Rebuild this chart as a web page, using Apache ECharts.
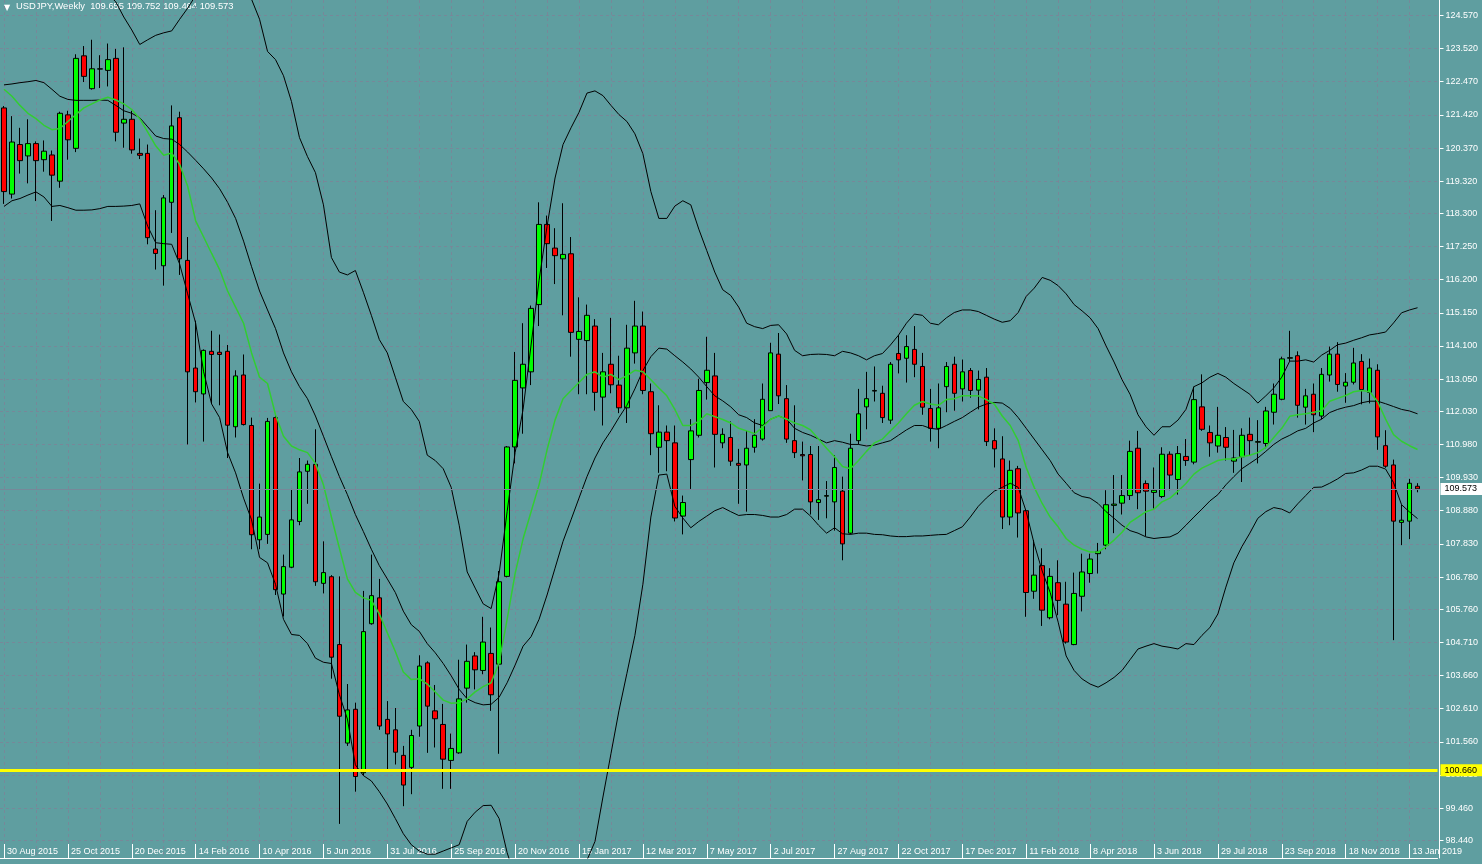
<!DOCTYPE html>
<html><head><meta charset="utf-8">
<script src="https://cdn.jsdelivr.net/npm/echarts@6/dist/echarts.min.js"></script>
<style>html,body{margin:0;padding:0;background:#5F9EA0;overflow:hidden}#c{width:1482px;height:864px}</style>
</head><body><div id="c"></div>
<script>
const symbolName = 'USDJPY,Weekly';
const firstWeekUTC = [2015, 7, 30];
const lastQuote = { open: 109.655, high: 109.752, low: 109.464, close: 109.573 };
const levelLine = 100.660;

const opens = [121.64,118.91,120.48,120.12,120.51,120.00,120.15,119.32,121.42,120.36,
123.29,122.25,122.87,122.83,123.21,121.16,121.28,120.20,120.20,117.17,
116.64,118.65,121.33,116.81,113.40,112.58,113.93,113.90,113.93,111.54,
113.18,111.58,107.96,108.13,111.83,106.24,107.09,108.54,110.13,110.35,
106.58,106.79,104.64,101.52,102.59,100.58,105.30,106.12,102.27,101.94,
101.13,100.75,102.06,104.06,102.54,102.11,100.97,101.21,103.26,104.28,
103.82,104.36,104.02,106.80,110.90,112.77,113.28,115.41,117.95,117.20,
116.86,117.02,114.31,114.27,114.73,112.48,113.52,112.86,112.14,113.88,
114.73,112.65,110.89,111.37,111.03,108.71,110.50,111.27,112.94,113.15,
111.03,111.20,110.38,110.33,110.89,111.15,112.05,113.84,112.43,111.10,
110.66,110.66,109.14,109.34,109.16,109.50,108.17,111.10,112.17,112.67,
112.60,111.75,113.86,113.71,113.99,113.45,112.12,111.49,112.81,113.52,
112.74,113.32,112.70,113.11,111.10,110.52,108.68,110.21,108.88,106.33,
107.14,105.49,106.60,105.92,104.64,106.17,106.89,107.52,107.79,109.05,
109.12,109.36,110.86,109.74,109.46,109.33,110.67,109.87,110.60,110.42,
112.17,111.36,110.93,111.20,110.45,110.59,111.30,111.05,111.01,112.00,
112.41,113.71,113.79,112.16,112.57,111.88,113.18,113.84,112.83,112.95,
113.61,112.63,113.33,110.94,110.33,108.51,108.55,109.655];
const highs = [121.70,121.38,121.01,121.28,120.58,120.61,120.29,121.52,121.55,123.34,
123.60,123.80,123.31,123.68,123.51,123.56,121.55,120.67,120.48,118.40,
118.88,121.72,121.52,117.55,114.90,113.99,114.58,114.46,114.13,113.33,
113.83,111.83,109.74,111.82,111.92,107.49,109.57,110.55,110.47,111.46,
107.91,106.84,106.80,103.39,102.80,106.34,107.49,106.72,102.85,102.63,
101.43,101.94,104.30,104.11,103.36,102.76,101.82,104.16,104.64,104.40,
105.52,105.18,106.97,110.93,113.91,114.82,115.38,118.65,118.23,117.83,
118.62,117.55,115.64,115.41,114.95,113.88,114.99,113.79,114.77,115.53,
115.19,112.91,112.22,111.58,111.58,109.36,111.78,113.06,114.39,113.88,
111.49,111.71,110.84,111.41,111.78,112.91,114.20,114.51,112.86,112.22,
111.07,110.93,110.93,109.82,110.64,109.96,111.32,112.74,113.28,113.45,
112.84,113.59,114.44,114.44,114.73,113.88,112.74,112.91,113.59,113.76,
113.67,113.40,113.32,113.40,111.49,111.24,110.47,110.30,108.93,107.95,
107.69,107.06,107.31,106.63,106.92,107.52,107.52,107.86,109.53,110.01,
110.01,111.10,111.41,109.84,110.25,110.89,110.76,110.93,111.15,112.81,
113.20,111.58,112.17,111.53,111.44,111.49,111.83,111.75,112.17,112.91,
113.76,114.58,113.93,112.74,112.91,113.40,114.08,114.22,113.24,114.04,
113.84,113.70,113.52,111.43,110.50,109.07,109.89,109.752];
const lows = [118.60,118.77,119.56,119.25,118.69,119.62,118.06,119.11,120.00,120.24,
122.46,122.22,122.27,122.32,120.58,120.38,120.19,120.02,117.32,116.52,
116.01,117.68,116.35,110.98,112.31,111.07,112.26,112.22,110.55,111.20,
111.58,107.66,107.66,107.83,106.21,105.53,107.06,108.42,109.10,106.50,
106.26,103.56,98.96,101.43,99.98,100.49,105.27,101.94,100.66,100.84,
99.52,99.90,101.72,101.21,101.38,100.07,100.07,101.18,102.80,103.22,
103.70,102.54,101.18,106.77,110.38,111.32,112.86,114.73,116.57,116.06,
115.07,113.76,112.57,112.57,112.05,111.58,112.60,111.97,111.66,113.54,
112.57,110.64,110.08,110.13,108.54,108.13,109.57,111.20,112.40,110.25,
110.86,110.30,109.10,108.85,110.72,111.10,112.05,112.26,111.03,110.55,
109.84,108.76,108.59,108.64,108.25,107.31,108.13,110.98,111.46,112.34,
111.66,111.63,113.23,112.94,113.11,111.92,111.07,110.86,112.00,112.05,
112.34,112.46,112.09,110.93,110.25,108.30,108.42,108.03,105.52,106.09,
105.23,105.44,105.57,104.67,104.62,105.69,106.60,106.89,107.66,108.17,
108.76,109.22,108.93,108.08,108.95,109.28,109.53,109.39,110.30,110.35,
111.41,110.59,110.72,110.47,110.08,109.79,110.64,110.38,110.86,111.61,
112.38,113.62,111.83,111.61,111.37,111.78,112.97,112.65,112.30,112.88,
112.25,112.28,110.81,110.24,104.78,107.79,107.98,109.464];
const closes = [118.99,120.56,119.97,120.51,119.97,120.27,119.51,121.47,120.63,123.21,
122.64,122.88,122.88,123.17,120.87,121.28,120.31,120.14,117.53,117.03,
118.79,121.07,116.86,113.28,112.65,113.96,113.83,113.83,111.59,113.15,
111.61,108.12,108.68,111.71,106.38,107.11,108.59,110.11,110.35,106.63,
106.92,104.24,102.37,102.57,100.46,105.05,106.19,102.06,101.81,101.23,
100.19,101.76,103.96,102.69,102.29,101.01,101.35,102.92,104.11,103.84,
104.72,103.05,106.63,110.90,113.01,113.52,115.29,117.95,117.34,116.96,
117.00,114.53,114.56,115.07,112.63,113.28,112.87,112.14,114.03,114.73,
112.69,111.32,111.37,111.10,108.65,109.14,111.41,112.69,113.33,111.30,
111.30,110.45,110.32,110.86,111.27,112.41,113.88,112.52,111.15,110.72,
110.62,109.16,109.23,109.36,110.25,107.83,110.86,111.95,112.43,112.69,
111.83,113.52,113.66,114.08,113.52,112.16,111.49,112.14,113.45,112.60,
113.28,112.69,113.04,111.07,110.84,108.68,110.16,108.81,106.29,106.84,
105.73,106.80,106.04,104.72,106.26,106.94,107.35,107.59,109.07,109.09,
109.36,110.76,109.45,109.50,109.53,110.67,110.01,110.69,110.47,112.40,
111.46,111.03,111.27,110.89,110.55,111.27,111.10,111.07,112.04,112.57,
113.69,113.73,112.22,112.52,111.92,113.20,113.84,112.88,112.95,113.56,
112.72,113.40,111.22,110.29,108.55,108.58,109.75,109.573];

const bbUpper = [126.20,126.15,126.10,126.05,126.00,126.00,125.90,125.60,125.40,125.35,
125.35,125.35,125.30,125.25,125.00,124.52,124.11,123.65,123.80,123.94,
124.02,124.08,124.45,124.80,125.20,125.90,126.40,126.40,126.50,126.10,
125.40,125.08,124.45,123.43,123.17,122.66,121.84,120.70,120.10,119.59,
118.57,116.90,116.44,116.35,116.49,115.80,115.07,114.30,113.88,113.11,
112.34,112.09,111.71,110.64,110.47,110.21,109.62,108.42,106.94,106.43,
105.93,105.78,106.89,108.85,110.72,112.09,114.13,116.18,117.89,119.42,
120.48,121.01,121.50,122.11,122.18,122.03,121.72,121.43,121.21,120.82,
120.19,118.99,118.14,118.14,118.53,118.70,118.57,117.80,117.12,116.44,
115.88,115.70,115.33,114.82,114.71,114.65,114.75,114.77,114.48,113.96,
113.79,113.83,113.84,113.83,113.79,113.93,113.88,113.79,113.66,113.79,
113.86,114.13,114.44,114.82,115.11,115.07,114.82,114.77,114.99,115.16,
115.24,115.24,115.19,115.07,114.95,114.85,114.90,115.16,115.67,115.93,
116.27,116.18,116.01,115.75,115.41,115.21,114.99,114.65,114.10,113.59,
113.03,112.57,111.92,111.54,111.27,111.54,111.54,111.75,112.09,112.81,
112.93,113.11,113.23,113.11,112.91,112.74,112.57,112.29,112.52,112.77,
113.11,113.62,113.62,113.66,113.59,113.81,113.96,114.14,114.19,114.28,
114.36,114.45,114.49,114.54,114.83,115.15,115.24,115.31];
const bbMiddle = [122.37,122.40,122.44,122.47,122.51,122.44,122.23,122.01,121.91,121.88,
121.88,121.88,121.89,121.88,121.72,121.55,121.47,121.33,121.04,120.75,
120.67,120.65,120.48,120.24,119.98,119.71,119.42,119.08,118.65,118.14,
117.42,116.61,115.84,115.24,114.65,113.88,113.28,112.81,112.43,111.88,
111.24,110.59,109.96,109.39,108.76,108.22,107.66,107.14,106.72,106.29,
105.70,105.27,105.06,104.67,104.38,104.04,103.65,103.22,102.92,102.80,
102.73,102.75,102.97,103.43,103.99,104.59,104.89,105.44,106.21,107.06,
107.91,108.59,109.28,109.96,110.55,111.03,111.41,111.83,112.22,112.74,
113.32,113.76,114.03,114.00,113.79,113.59,113.37,113.11,112.81,112.52,
112.36,112.17,111.92,111.83,111.66,111.58,111.78,111.88,111.78,111.49,
111.36,111.27,111.15,111.03,111.10,111.05,110.98,110.98,110.93,110.96,
111.03,111.10,111.27,111.44,111.58,111.58,111.49,111.46,111.58,111.71,
111.83,112.00,112.16,112.26,112.31,112.29,112.12,111.83,111.49,111.15,
110.81,110.47,110.04,109.75,109.45,109.33,109.28,109.11,108.85,108.64,
108.42,108.25,108.17,108.05,108.00,108.03,108.05,108.17,108.42,108.68,
108.93,109.19,109.39,109.70,109.96,110.21,110.38,110.55,110.76,110.98,
111.15,111.27,111.41,111.49,111.66,111.78,111.99,112.09,112.16,112.21,
112.30,112.35,112.35,112.27,112.18,112.09,112.04,111.95];
const bbLower = [118.52,118.70,118.77,118.88,118.98,118.82,118.52,118.55,118.48,118.40,
118.40,118.41,118.45,118.52,118.52,118.53,118.55,118.60,117.89,117.37,
117.34,117.32,116.69,115.75,114.82,113.28,112.26,111.83,110.72,110.08,
109.28,108.59,107.40,107.23,106.55,105.44,104.96,104.93,104.67,104.21,
104.08,104.04,103.05,102.28,100.83,100.49,100.32,99.98,99.59,99.13,
98.65,98.30,98.10,98.00,98.00,98.10,98.20,98.30,99.04,99.33,
99.54,99.55,99.13,98.05,97.26,97.09,95.65,94.70,94.53,94.70,
95.34,96.17,97.06,97.81,98.40,99.81,101.18,102.54,103.73,104.93,
106.55,108.68,110.01,110.04,109.02,108.65,108.34,108.54,108.71,108.88,
108.98,108.85,108.73,108.76,108.76,108.73,108.68,108.68,108.76,108.93,
108.93,108.71,108.42,108.17,108.34,108.15,108.13,108.17,108.17,108.13,
108.12,108.08,108.06,108.06,108.08,108.08,108.10,108.12,108.13,108.25,
108.37,108.68,109.02,109.28,109.50,109.62,109.75,109.62,108.85,107.83,
106.97,106.29,105.35,104.28,103.82,103.55,103.39,103.29,103.43,103.60,
103.82,104.16,104.50,104.59,104.67,104.59,104.55,104.50,104.67,104.64,
104.93,105.18,105.61,106.46,107.23,107.74,108.17,108.64,108.85,108.98,
108.93,108.81,109.10,109.36,109.62,109.63,109.75,109.89,110.06,110.08,
110.17,110.29,110.29,110.20,109.77,109.07,108.84,108.63];
const maGreen = [122.23,122.01,121.72,121.47,121.30,121.09,120.95,120.99,121.21,121.43,
121.64,121.77,121.89,121.98,121.89,121.77,121.59,121.30,120.87,120.44,
120.14,120.21,119.85,119.16,118.06,117.55,117.03,116.52,115.84,115.33,
114.82,113.88,113.11,112.91,111.92,111.24,110.93,110.81,110.72,110.38,
109.70,108.68,107.69,106.72,106.29,106.12,106.04,105.61,105.01,104.42,
103.77,103.53,103.56,103.39,103.14,102.88,102.78,102.80,102.92,103.14,
103.31,103.43,104.07,105.44,106.89,107.99,108.85,109.70,110.81,111.75,
112.43,112.69,112.94,113.20,113.28,113.11,113.20,113.03,113.16,113.33,
113.28,113.03,112.77,112.52,112.09,111.58,111.58,111.71,111.95,111.86,
111.77,111.66,111.49,111.41,111.32,111.53,111.78,111.88,111.78,111.66,
111.58,111.44,111.15,110.86,110.59,110.28,110.21,110.47,110.76,111.03,
111.15,111.41,111.66,111.95,112.22,112.34,112.26,112.22,112.40,112.43,
112.52,112.52,112.52,112.40,112.26,111.88,111.58,111.10,110.25,109.62,
109.11,108.68,108.37,108.00,107.79,107.66,107.57,107.57,107.74,107.95,
108.20,108.51,108.68,108.85,108.93,109.16,109.28,109.50,109.74,110.04,
110.23,110.35,110.47,110.52,110.52,110.59,110.64,110.72,110.89,111.20,
111.49,111.87,111.92,111.95,112.00,112.05,112.35,112.44,112.53,112.65,
112.69,112.65,112.34,111.78,111.29,111.08,110.94,110.82];

const priceTicks = [124.570,123.520,122.470,121.420,120.370,119.320,118.300,117.250,116.200,115.150,
114.100,113.050,112.030,110.980,109.930,108.880,107.830,106.780,105.760,104.710,
103.660,102.610,101.560,100.510,99.460,98.440];
const dateLabels = ['30 Aug 2015','25 Oct 2015','20 Dec 2015','14 Feb 2016','10 Apr 2016','5 Jun 2016',
'31 Jul 2016','25 Sep 2016','20 Nov 2016','15 Jan 2017','12 Mar 2017','7 May 2017','2 Jul 2017',
'27 Aug 2017','22 Oct 2017','17 Dec 2017','11 Feb 2018','8 Apr 2018','3 Jun 2018','29 Jul 2018',
'23 Sep 2018','18 Nov 2018','13 Jan 2019'];

// ---- build ----
const MONTHS = ['Jan','Feb','Mar','Apr','May','Jun','Jul','Aug','Sep','Oct','Nov','Dec'];
const n = opens.length;
const start = Date.UTC(firstWeekUTC[0], firstWeekUTC[1], firstWeekUTC[2]);
const categories = [];
for (let i = 0; i < n; i++) {
  const d = new Date(start + i * 7 * 86400000);
  categories.push(d.getUTCDate() + ' ' + MONTHS[d.getUTCMonth()] + ' ' + d.getUTCFullYear());
}
categories.push('', ''); // chart right shift
const ohlc = opens.map((o, i) => [o, closes[i], lows[i], highs[i]]);

const FONT = 'Liberation Sans';
const GRIDC = '#778899';
const chart = echarts.init(document.getElementById('c'), null, { renderer: 'canvas' });
const lineS = (data, color, width, z) => ({
  type: 'line', data, showSymbol: false, symbol: 'none', silent: true, z,
  lineStyle: { color, width }, emphasis: { disabled: true }
});
chart.setOption({
  backgroundColor: '#5F9EA0',
  animation: false,
  grid: { left: -2.5, right: 44.5, top: 0, bottom: 6, containLabel: false },
  graphic: [
    { type: 'text', left: 4, top: 4, style: { text: '\u25BC', fill: '#ffffff', font: '8px "DejaVu Sans"' } },
    { type: 'text', left: 16, top: 2, style: {
      text: symbolName + '  ' + lastQuote.open.toFixed(3) + ' ' + lastQuote.high.toFixed(3) + ' ' +
            lastQuote.low.toFixed(3) + ' ' + lastQuote.close.toFixed(3),
      fill: '#ffffff', font: '9.4px "' + FONT + '"' } }
  ],
  xAxis: {
    type: 'category', data: categories, boundaryGap: true,
    axisLine: { show: true, lineStyle: { color: '#ffffff', width: 1 } },
    axisTick: { show: true, inside: true, length: 14, interval: 7, alignWithLabel: true, lineStyle: { color: '#ffffff' } },
    axisLabel: {
      inside: true, interval: 7, margin: 2, align: 'left', padding: [0, 0, 0, 3],
      color: '#ffffff', fontFamily: FONT, fontSize: 9,
      formatter: (v, idx) => (idx % 8 === 0 && dateLabels[idx / 8]) ? dateLabels[idx / 8] : ''
    },
    splitLine: { show: true, interval: 3, alignWithLabel: true, lineStyle: { color: GRIDC, type: [3, 3], width: 1 } }
  },
  yAxis: {
    type: 'value', position: 'right', min: 97.879, max: 125.059, offset: 2, scale: true,
    axisLine: { show: true, lineStyle: { color: '#ffffff', width: 1 } },
    axisTick: { show: true, customValues: priceTicks, length: 4, lineStyle: { color: '#ffffff' } },
    axisLabel: { customValues: priceTicks, formatter: v => v.toFixed(3), color: '#ffffff',
      fontFamily: FONT, fontSize: 9, margin: 6, align: 'left' },
    splitLine: { show: true, lineStyle: { color: GRIDC, type: [3, 3], width: 1 } }
  },
  series: [
    {
      type: 'candlestick', data: ohlc, barWidth: 5, clip: false, z: 2, silent: true,
      itemStyle: { color: '#00FF00', color0: '#FF0000', borderColor: '#000000', borderColor0: '#000000', borderWidth: 1 },
      markLine: {
        silent: true, symbol: 'none', animation: false,
        data: [
          { yAxis: lastQuote.close, lineStyle: { color: GRIDC, width: 1, type: 'solid' },
            label: { show: true, position: 'end', distance: 3, formatter: lastQuote.close.toFixed(3),
              backgroundColor: '#ffffff', color: '#000000', fontFamily: FONT, fontSize: 9, padding: [2, 4, 1, 4], width: 34 } },
          { yAxis: levelLine, lineStyle: { color: '#FFFF00', width: 3, type: 'solid' },
            label: { show: true, position: 'end', distance: 3, formatter: levelLine.toFixed(3),
              backgroundColor: '#FFFF00', color: '#000000', fontFamily: FONT, fontSize: 9, padding: [2, 4, 1, 4], width: 34 } }
        ]
      }
    },
    lineS(bbUpper, '#000000', 1, 3),
    lineS(bbMiddle, '#000000', 1, 3),
    lineS(bbLower, '#000000', 1, 3),
    lineS(maGreen, '#32CD32', 1.5, 3)
  ]
});
</script>
</body></html>
